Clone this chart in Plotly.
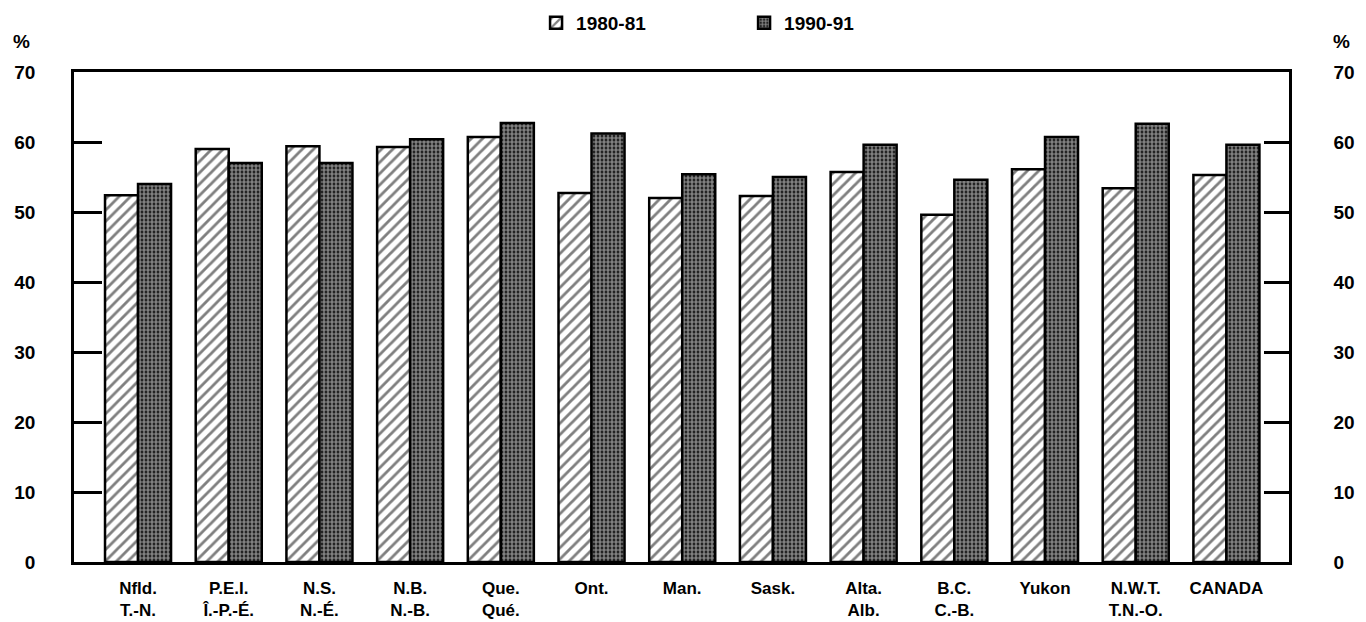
import plotly.graph_objects as go

categories = ["Nfld.<br>T.-N.", "P.E.I.<br>Î.-P.-É.", "N.S.<br>N.-É.", "N.B.<br>N.-B.",
              "Que.<br>Qué.", "Ont.", "Man.", "Sask.", "Alta.<br>Alb.", "B.C.<br>C.-B.",
              "Yukon", "N.W.T.<br>T.N.-O.", "CANADA"]
values_1980 = [52.4, 59.0, 59.4, 59.3, 60.7, 52.7, 52.0, 52.3, 55.7, 49.6, 56.1, 53.4, 55.3]
values_1990 = [54.0, 57.0, 57.0, 60.4, 62.7, 61.2, 55.4, 55.0, 59.6, 54.6, 60.7, 62.6, 59.6]
series_names = ["1980-81", "1990-91"]
tick_vals = [0, 10, 20, 30, 40, 50, 60, 70]

FONT = "Liberation Sans, Arial, sans-serif"
x_idx = list(range(len(categories)))

fig = go.Figure()
fig.add_trace(go.Bar(
    x=x_idx, y=values_1980, name=series_names[0],
    marker=dict(color="white", line=dict(color="black", width=2.5),
                pattern=dict(shape="/", fgcolor="black", bgcolor="white", size=8, solidity=0.35)),
))
fig.add_trace(go.Bar(
    x=x_idx, y=values_1990, name=series_names[1],
    marker=dict(color="black", line=dict(color="black", width=2.5),
                pattern=dict(shape=".", fgcolor="white", bgcolor="black", size=4, solidity=0.7)),
))
# invisible trace to host the right axis
fig.add_trace(go.Scatter(x=[x_idx[0]], y=[0], yaxis="y2", mode="markers",
                         marker=dict(opacity=0), showlegend=False, hoverinfo="skip"))

fig.update_layout(
    width=1358, height=614,
    margin=dict(l=66, r=77, t=64, b=60, autoexpand=False),
    paper_bgcolor="white", plot_bgcolor="white",
    font=dict(family=FONT, size=19, color="black", weight="bold"),
    barmode="group", bargap=0.272, bargroupgap=0,
    showlegend=True,
    legend=dict(orientation="h", x=0.3803, xanchor="left", y=1.1, yanchor="middle",
                font=dict(size=19, weight="bold"), entrywidth=163, bgcolor="rgba(0,0,0,0)"),
    xaxis=dict(tickmode="array", tickvals=x_idx, ticktext=categories,
               range=[-0.706, 12.69], showline=True, linecolor="black", linewidth=2.5,
               mirror=True, ticks="", showgrid=False, zeroline=False, tickangle=0,
               automargin=False, ticklabelstandoff=9,
               tickfont=dict(size=17, weight="bold")),
    yaxis=dict(range=[0, 70], tickvals=tick_vals, showline=True, linecolor="black",
               linewidth=2.5, ticks="inside", ticklen=28, tickwidth=2.5, tickcolor="black",
               showgrid=False, zeroline=False, ticklabelstandoff=32, automargin=False),
    yaxis2=dict(range=[0, 70], tickvals=tick_vals, overlaying="y", side="right",
                showline=True, linecolor="black", linewidth=2.5, ticks="inside", ticklen=25,
                tickwidth=2.5, tickcolor="black", showgrid=False, zeroline=False,
                ticklabelstandoff=38, automargin=False),
    annotations=[
        dict(text="%", xref="paper", yref="paper", x=-0.0428, y=1.063, showarrow=False,
             xanchor="center", yanchor="middle", font=dict(size=19, weight="bold")),
        dict(text="%", xref="paper", yref="paper", x=1.0436, y=1.063, showarrow=False,
             xanchor="center", yanchor="middle", font=dict(size=19, weight="bold")),
    ],
)

fig.write_html("out.html")
